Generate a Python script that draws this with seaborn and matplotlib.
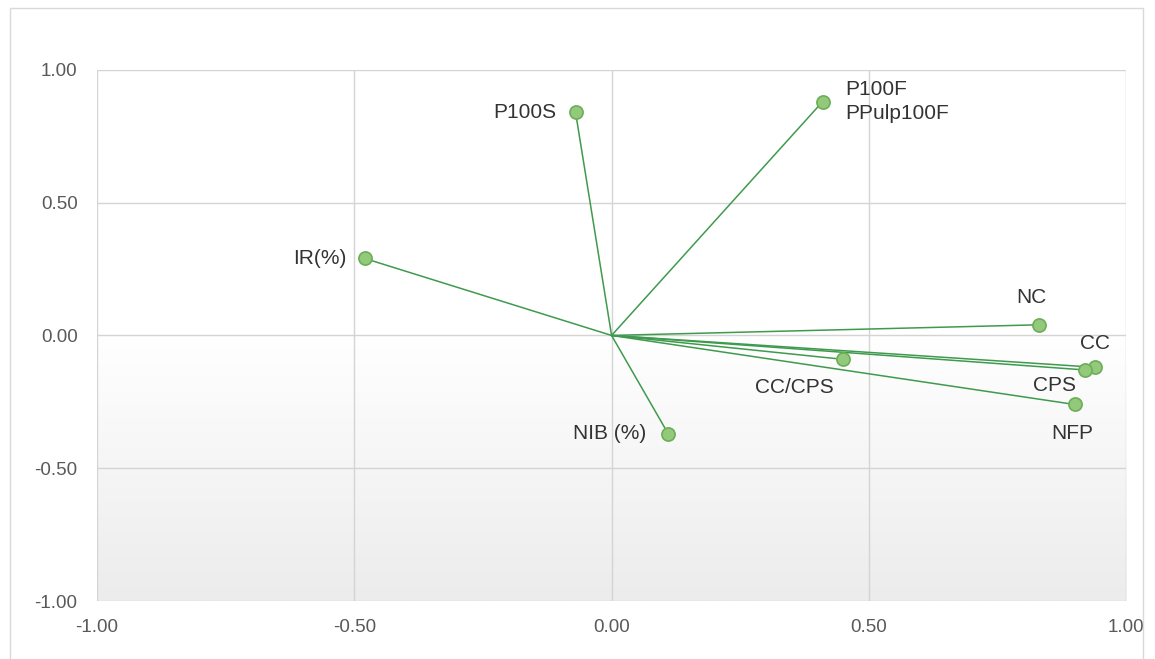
import numpy as np
import pandas as pd
import seaborn as sns
import matplotlib.pyplot as plt
from matplotlib.patches import Rectangle

# loadings
labels = ['P100S', 'P100F\nPPulp100F', 'IR(%)', 'NC', 'CC', 'CPS', 'NFP', 'CC/CPS', 'NIB (%)']
x_vals = [-0.07, 0.41, -0.48, 0.83, 0.94, 0.92, 0.90, 0.45, 0.11]
y_vals = [0.84, 0.88, 0.29, 0.04, -0.12, -0.13, -0.26, -0.09, -0.37]
ticks = [-1.0, -0.5, 0.0, 0.5, 1.0]

df = pd.DataFrame({'label': labels, 'x': x_vals, 'y': y_vals})
# origin + end point per variable for the vectors
seg = pd.concat([
    pd.DataFrame({'label': labels, 'x': 0.0, 'y': 0.0, 'o': 0}),
    pd.DataFrame({'label': labels, 'x': x_vals, 'y': y_vals, 'o': 1}),
]).sort_values(['label', 'o'])

sns.set_style('white')
plt.rcParams['font.family'] = ['Liberation Sans', 'DejaVu Sans']

fig = plt.figure(figsize=(11.55, 6.59), dpi=100)
ax = fig.add_axes([0.084, 0.088, 0.891, 0.806])

# outer chart border
fig.patches.append(Rectangle((10 / 1155, -0.01), 1133 / 1155, 1 - 8 / 659 + 0.01,
                             transform=fig.transFigure, fill=False,
                             edgecolor='#d9d9d9', linewidth=1))

# gradient plot area
grad = np.linspace(0, 1, 256).reshape(-1, 1)
ax.imshow(grad, extent=[-1, 1, -1, 1], aspect='auto', origin='upper',
          cmap=plt.matplotlib.colors.LinearSegmentedColormap.from_list(
              'g', ['#ffffff', '#ffffff', '#ececec']), zorder=0)

sns.lineplot(data=seg, x='x', y='y', units='label', estimator=None, sort=False,
             color='#3f9a4e', linewidth=1.1, ax=ax, zorder=3)
sns.scatterplot(data=df, x='x', y='y', s=90, color='#93c97a', edgecolor='#6cae57',
                linewidth=1.2, ax=ax, zorder=4)

offsets = {
    'P100S': ((-14, 0), 'right', 'center'),
    'P100F\nPPulp100F': ((16, 0), 'left', 'center'),
    'IR(%)': ((-13, 0), 'right', 'center'),
    'NC': ((-5, 20), 'center', 'center'),
    'CC': ((0, 17), 'center', 'center'),
    'CPS': ((-22, -11), 'center', 'center'),
    'NFP': ((-2, -21), 'center', 'center'),
    'CC/CPS': ((-35, -20), 'center', 'center'),
    'NIB (%)': ((-16, 0), 'right', 'center'),
}
for lab, xv, yv in zip(labels, x_vals, y_vals):
    off, ha, va = offsets[lab]
    ax.annotate(lab, (xv, yv), xytext=off, textcoords='offset points',
                ha=ha, va=va, fontsize=15, color='#333333', linespacing=1.3,
                zorder=5)

ax.set_xlim(-1, 1)
ax.set_ylim(-1, 1)
ax.set_xticks(ticks)
ax.set_yticks(ticks)
ax.set_xticklabels([f'{t:.2f}' for t in ticks])
ax.set_yticklabels([f'{t:.2f}' for t in ticks])
ax.grid(True, color='#d4d4d4', linewidth=1)
for g in ax.get_xgridlines() + ax.get_ygridlines():
    g.set_zorder(1)
for s in ax.spines.values():
    s.set_visible(False)
ax.tick_params(length=0, labelsize=13.5, labelcolor='#595959')
ax.tick_params(axis='x', pad=13)
ax.tick_params(axis='y', pad=14)
ax.set_xlabel('')
ax.set_ylabel('')

fig.savefig('out.png', dpi=100)
